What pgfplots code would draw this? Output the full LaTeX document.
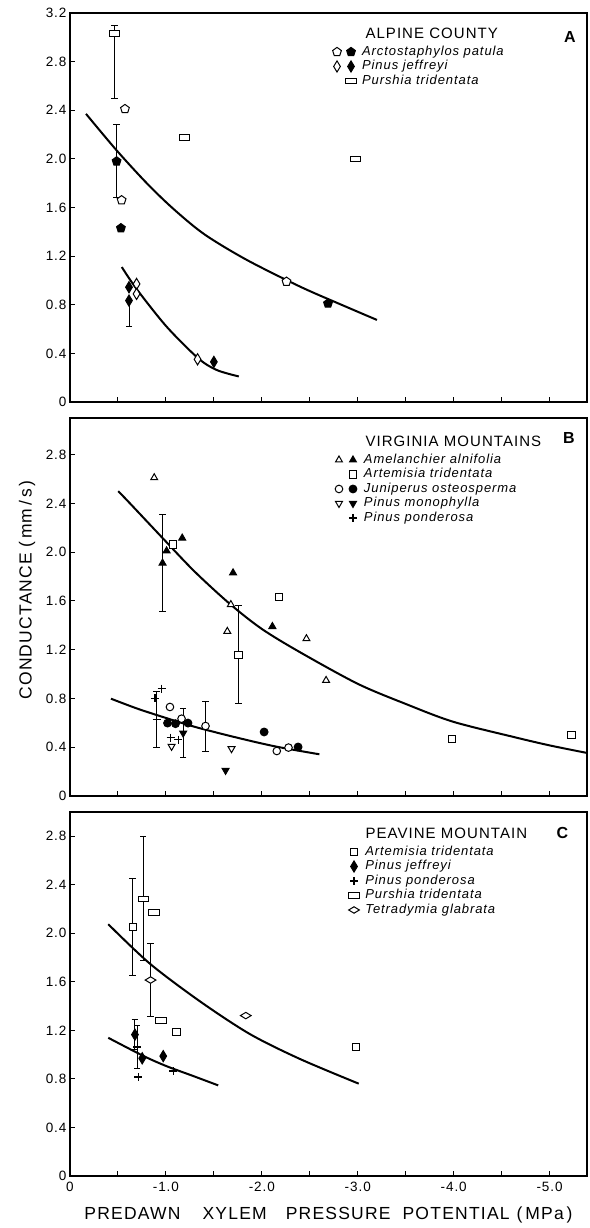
\documentclass[border=0pt]{standalone}
\usepackage{pgfplots}
\pgfplotsset{compat=1.18}
\usetikzlibrary{plotmarks}
\usepackage{fontspec}
\setmainfont{Liberation Sans}[LetterSpace=7]

\tikzset{
 pentO/.style={mark=pentagon*, mark size=4.6pt, mark options={draw=black, fill=white, line width=1pt, solid}},
 pentF/.style={mark=pentagon*, mark size=4.6pt, mark options={draw=black, fill=black, line width=1pt, solid}},
 diaO/.style={mark=diamond*, mark size=5.6pt, mark options={draw=black, fill=white, line width=1pt, solid, xscale=0.8}},
 diaF/.style={mark=diamond*, mark size=5.6pt, mark options={draw=black, fill=black, line width=1pt, solid, xscale=0.8}},
 rectO/.style={mark=square*, mark size=3.4pt, mark options={draw=black, fill=white, line width=1pt, solid, xscale=1.5, yscale=0.8, rounded corners=1pt}},
 sqO/.style={mark=square*, mark size=3.6pt, mark options={draw=black, fill=white, line width=1pt, solid}},
 triO/.style={mark=triangle*, mark size=4pt, mark options={draw=black, fill=white, line width=1pt, solid}},
 triF/.style={mark=triangle*, mark size=4pt, mark options={draw=black, fill=black, line width=1pt, solid}},
 itriO/.style={mark=triangle*, mark size=4pt, mark options={draw=black, fill=white, line width=1pt, solid, rotate=180}},
 itriF/.style={mark=triangle*, mark size=4pt, mark options={draw=black, fill=black, line width=1pt, solid, rotate=180}},
 cirO/.style={mark=*, mark size=3.8pt, mark options={draw=black, fill=white, line width=1pt, solid}},
 cirF/.style={mark=*, mark size=3.9pt, mark options={draw=black, fill=black, line width=1pt, solid}},
 plusM/.style={mark=+, mark size=4pt, mark options={draw=black, line width=1.3pt, solid}},
 wdiaO/.style={mark=diamond*, mark size=3.4pt, mark options={draw=black, fill=white, line width=1pt, solid, xscale=2.1, yscale=0.95}},
}

\pgfplotsset{
 panel/.style={
   scale only axis, width=517pt, x dir=reverse, xmin=-5.39, xmax=0, ymin=0,
   axis line style={line width=1.2pt},
   tick style={black, line width=1pt}, tick align=inside, tick pos=left,
   major tick length=5pt,
   xtick={0,-0.5,-1,-1.5,-2,-2.5,-3,-3.5,-4,-4.5,-5},
   ticklabel style={font=\fontsize{13.5}{15}\selectfont},
   /pgf/number format/assume math mode=true,
   clip=false,
   legend style={draw=none, fill=none, anchor=north west, inner sep=0pt, outer sep=0pt,
     row sep=2.5pt, column sep=6pt, font=\fontsize{13}{14}\selectfont\itshape,
     nodes={inner sep=0pt, text height=9.5pt, text depth=2.5pt}},
   legend cell align=left,
 },
 fitline/.style={no marks, smooth, line width=2pt, black, forget plot},
 err/.style={error bars/y dir=both, error bars/y explicit,
   error bars/error bar style={line width=0.9pt, black, solid},
   error bars/error mark options={rotate=90, mark size=3.2pt, line width=0.9pt, black}},
 pairimg/.style 2 args={legend image code/.code={
   \draw[black, #1] plot coordinates {(0pt,0pt)};
   \draw[black, #2] plot coordinates {(14pt,0pt)};
   \path[draw=none, fill=none] (-5pt,-5pt) rectangle (19pt,5pt);}},
 oneimg/.style={legend image code/.code={
   \draw[black, #1] plot coordinates {(14pt,0pt)};
   \path[draw=none, fill=none] (-5pt,-5pt) rectangle (19pt,5pt);}},
}

\begin{document}
\begin{tikzpicture}
\useasboundingbox (0,0) rectangle (589pt,1228pt);

% ---------------- Panel A ----------------
\begin{axis}[panel, at={(70pt,826pt)}, anchor=south west, height=389pt, ymax=3.2,
  ytick={0,0.4,0.8,1.2,1.6,2.0,2.4,2.8,3.2},
  yticklabels={0,0.4,0.8,1.2,1.6,2.0,2.4,2.8,3.2},
  xticklabels={},
  legend style={at={(axis description cs:0.5068,0.9152)}}]
\addlegendimage{pairimg={pentO}{pentF}} \addlegendentry{Arctostaphylos patula}
\addlegendimage{pairimg={diaO}{diaF}} \addlegendentry{Pinus jeffreyi}
\addlegendimage{oneimg={rectO}} \addlegendentry{Purshia tridentata}

\addplot[fitline] coordinates {(-0.167,2.37) (-0.486,2.07) (-0.8,1.80) (-1.076,1.59) (-1.4,1.38) (-1.84,1.17) (-2.396,0.95) (-2.8,0.81) (-3.2,0.675)};
\addplot[fitline] coordinates {(-0.54,1.11) (-0.694,0.93) (-1.007,0.62) (-1.336,0.36) (-1.53,0.263) (-1.76,0.21)};

\addplot[only marks, rectO, err, forget plot] coordinates {(-0.465,3.03) += (0,0.07) -= (0,0.53)};
\addplot[only marks, pentF, err, forget plot] coordinates {(-0.486,1.98) +- (0,0.30)};
\addplot[only marks, diaF, err, error bars/y dir=minus, forget plot] coordinates {(-0.615,0.834) -= (0,0.21)};

\addplot[only marks, pentO, forget plot] coordinates {(-0.573,2.41) (-0.538,1.66) (-2.257,0.99)};
\addplot[only marks, pentF, forget plot] coordinates {(-0.531,1.43) (-2.69,0.81)};
\addplot[only marks, diaO, forget plot] coordinates {(-0.694,0.971) (-0.694,0.889) (-1.33,0.351)};
\addplot[only marks, diaF, forget plot] coordinates {(-0.615,0.944) (-1.50,0.33)};
\addplot[only marks, rectO, forget plot] coordinates {(-1.19,2.175) (-2.98,2.0)};

\node[anchor=base west, font=\fontsize{15}{16}\selectfont] at (axis description cs:0.5648,0.935) {ALPINE COUNTY};
\node[anchor=base, font=\fontsize{16}{17}\selectfont\bfseries] at (axis description cs:0.967,0.9237) {A};
\end{axis}

% ---------------- Panel B ----------------
\begin{axis}[panel, at={(70pt,432pt)}, anchor=south west, height=378pt, ymax=3.1,
  ytick={0,0.4,0.8,1.2,1.6,2.0,2.4,2.8},
  yticklabels={0,0.4,0.8,1.2,1.6,2.0,2.4,2.8},
  xticklabels={},
  ylabel={CONDUCTANCE\hspace{5pt}(\,mm\,/\,s\,)},
  ylabel style={at={(axis description cs:-0.0832,0.545)}, anchor=center, font=\fontsize{17.5}{18}\selectfont},
  legend style={at={(axis description cs:0.5106,0.9048)}}]
\addlegendimage{pairimg={triO}{triF}} \addlegendentry{Amelanchier alnifolia}
\addlegendimage{oneimg={sqO}} \addlegendentry{Artemisia tridentata}
\addlegendimage{pairimg={cirO}{cirF}} \addlegendentry{Juniperus osteosperma}
\addlegendimage{pairimg={itriO}{itriF}} \addlegendentry{Pinus monophylla}
\addlegendimage{oneimg={plusM}} \addlegendentry{Pinus ponderosa}

\addplot[fitline] coordinates {(-0.503,2.50) (-0.625,2.40) (-0.972,2.11) (-1.3,1.84) (-1.667,1.575) (-2.0,1.37) (-2.396,1.18) (-3.0,0.92) (-3.5,0.755) (-3.99,0.61) (-4.62,0.485) (-5.0,0.415) (-5.39,0.353)};
\addplot[fitline] coordinates {(-0.427,0.798) (-0.7,0.717) (-1.0,0.64) (-1.32,0.563) (-1.77,0.473) (-2.15,0.405) (-2.6,0.342)};

\addplot[only marks, triF, err, forget plot] coordinates {(-0.965,1.91) +- (0,0.40)};
\addplot[only marks, sqO, err, forget plot] coordinates {(-1.757,1.159) +- (0,0.40)};
\addplot[only marks, cirO, err, forget plot] coordinates {(-1.413,0.574) +- (0,0.205)};
\addplot[only marks, itriF, err, forget plot] coordinates {(-1.18,0.516) +- (0,0.20)};
\addplot[only marks, plusM, err, forget plot] coordinates {(-0.903,0.626) +- (0,0.23)};

\addplot[only marks, triO, forget plot] coordinates {(-0.878,2.61) (-1.677,1.57) (-1.64,1.35) (-2.465,1.29) (-2.67,0.948)};
\addplot[only marks, triF, forget plot] coordinates {(-1.007,2.01) (-1.17,2.115) (-1.70,1.83) (-2.11,1.39)};
\addplot[only marks, sqO, forget plot] coordinates {(-1.076,2.063) (-2.18,1.63) (-3.986,0.47) (-5.229,0.497)};
\addplot[only marks, cirO, forget plot] coordinates {(-1.042,0.73) (-1.163,0.634) (-2.156,0.369) (-2.278,0.397)};
\addplot[only marks, cirF, forget plot] coordinates {(-1.017,0.598) (-1.10,0.593) (-1.23,0.598) (-2.024,0.525) (-2.378,0.402)};
\addplot[only marks, itriO, forget plot] coordinates {(-1.059,0.407) (-1.684,0.388)};
\addplot[only marks, itriF, forget plot] coordinates {(-1.622,0.21)};
\addplot[only marks, plusM, forget plot] coordinates {(-0.885,0.80) (-0.955,0.88) (-1.049,0.478) (-1.128,0.462)};

\node[anchor=base west, font=\fontsize{15}{16}\selectfont] at (axis description cs:0.5648,0.9251) {VIRGINIA MOUNTAINS};
\node[anchor=base, font=\fontsize{16}{17}\selectfont\bfseries] at (axis description cs:0.965,0.933) {B};
\end{axis}

% ---------------- Panel C ----------------
\begin{axis}[panel, at={(70pt,52pt)}, anchor=south west, height=364pt, ymax=3.0,
  ytick={0,0.4,0.8,1.2,1.6,2.0,2.4,2.8},
  yticklabels={0,0.4,0.8,1.2,1.6,2.0,2.4,2.8},
  xticklabels={0,,-1.0,,-2.0,,-3.0,,-4.0,,-5.0},
  xticklabel style={yshift=-2.5pt},
  xlabel={PREDAWN\hspace{22pt}XYLEM\hspace{19pt}PRESSURE\hspace{12pt}POTENTIAL\hspace{7pt}(\,MPa\,)},
  xlabel style={at={(axis description cs:0.5,-0.107)}, anchor=center, font=\fontsize{17.5}{18}\selectfont},
  legend style={at={(axis description cs:0.5126,0.9066)}}]
\addlegendimage{oneimg={sqO}} \addlegendentry{Artemisia tridentata}
\addlegendimage{oneimg={diaF}} \addlegendentry{Pinus jeffreyi}
\addlegendimage{oneimg={plusM}} \addlegendentry{Pinus ponderosa}
\addlegendimage{oneimg={rectO}} \addlegendentry{Purshia tridentata}
\addlegendimage{oneimg={wdiaO}} \addlegendentry{Tetradymia glabrata}

\addplot[fitline] coordinates {(-0.399,2.075) (-0.833,1.75) (-1.354,1.44) (-1.875,1.17) (-2.396,0.965) (-3.01,0.761)};
\addplot[fitline] coordinates {(-0.399,1.139) (-0.764,0.99) (-1.007,0.905) (-1.285,0.824) (-1.545,0.747)};

\addplot[only marks, sqO, err, forget plot] coordinates {(-0.653,2.053) +- (0,0.40)};
\addplot[only marks, rectO, err, forget plot] coordinates {(-0.764,2.285) +- (0,0.51)};
\addplot[only marks, wdiaO, err, forget plot] coordinates {(-0.84,1.615) +- (0,0.30)};
\addplot[only marks, plusM, err, forget plot] coordinates {(-0.701,1.062) +- (0,0.175)};
\addplot[only marks, diaF, err, forget plot] coordinates {(-0.677,1.165) +- (0,0.125)};

\addplot[only marks, sqO, forget plot] coordinates {(-1.11,1.185) (-2.98,1.062)};
\addplot[only marks, diaF, forget plot] coordinates {(-0.753,0.97) (-0.972,0.988)};
\addplot[only marks, plusM, forget plot] coordinates {(-0.712,0.815) (-1.076,0.865)};
\addplot[only marks, rectO, forget plot] coordinates {(-0.875,2.17) (-0.948,1.28)};
\addplot[only marks, wdiaO, forget plot] coordinates {(-1.833,1.322)};

\node[anchor=base west, font=\fontsize{15}{16}\selectfont] at (axis description cs:0.5648,0.9277) {PEAVINE MOUNTAIN};
\node[anchor=base, font=\fontsize{16}{17}\selectfont\bfseries] at (axis description cs:0.9526,0.928) {C};
\end{axis}
\end{tikzpicture}
\end{document}
